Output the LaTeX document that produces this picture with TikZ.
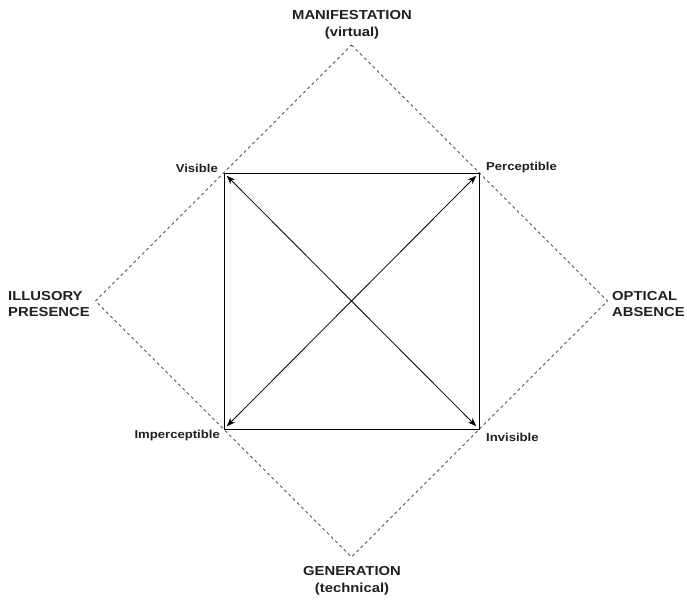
\documentclass[tikz,border=0pt]{standalone}
\usepackage{fontspec}
\setmainfont[FakeStretch=1.14]{Liberation Sans}
\usetikzlibrary{arrows.meta}
\begin{document}
\begin{tikzpicture}[x=1pt,y=-1pt,
  big/.style={font=\bfseries\fontsize{13}{16.5}\selectfont, align=left, inner sep=0pt, text=black!88},
  bigc/.style={font=\bfseries\fontsize{13}{16.5}\selectfont, align=center, inner sep=0pt, text=black!88},
  small/.style={font=\bfseries\fontsize{11.5}{12}\selectfont, inner sep=0pt, text=black!88},
  dia/.style={draw, dashed, dash pattern=on 3pt off 3pt, line width=0.6pt},
  sq/.style={draw, line width=0.8pt},
  arr/.style={{Stealth[length=8.5pt,width=6.5pt]}-{Stealth[length=8.5pt,width=6.5pt]}, line width=0.8pt, shorten <=4pt, shorten >=4pt}]
\useasboundingbox (0,0) rectangle (687,601);
% diamond apexes
\coordinate (T) at (351.5,45);
\coordinate (R) at (607.5,301);
\coordinate (B) at (351.5,557);
\coordinate (L) at (95.5,301);
\draw[dia] (T) -- (R) -- (B) -- (L) -- cycle;
% square corners
\coordinate (VI) at (224,173);
\coordinate (PE) at (479,173);
\coordinate (IN) at (479,429);
\coordinate (IM) at (224,429);
\draw[sq] (VI) -- (PE) -- (IN) -- (IM) -- cycle;
\draw[arr] (VI) -- (IN);
\draw[arr] (IM) -- (PE);
% labels
\node[bigc] (man) at (352,25) {MANIFESTATION\\(virtual)};
\node[bigc] (gen) at (352,581) {GENERATION\\(technical)};
\node[big, anchor=west] (ill) at (8,304) {ILLUSORY\\PRESENCE};
\node[big, anchor=west] (opt) at (612,304) {OPTICAL\\ABSENCE};
\node[small, anchor=east] (vis) at (218,168) {Visible};
\node[small, anchor=west] (per) at (486,168) {Perceptible};
\node[small, anchor=east] (imp) at (220,436) {Imperceptible};
\node[small, anchor=west] (inv) at (486,437) {Invisible};
\end{tikzpicture}
\end{document}
